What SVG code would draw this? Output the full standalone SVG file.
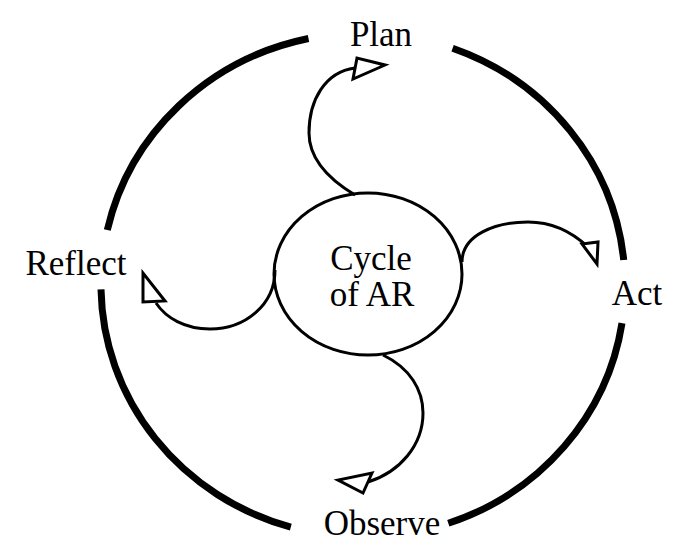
<svg xmlns="http://www.w3.org/2000/svg" width="695" height="552" viewBox="0 0 695 552">
<style>
.ring{fill:none;stroke:#000;stroke-width:7;stroke-linecap:butt}
.arc{fill:none;stroke:#000;stroke-width:3}
.head{fill:#fff;stroke:#000;stroke-width:3;stroke-linejoin:miter}
.lbl{font-family:'Liberation Serif';font-size:35px;fill:#000;text-anchor:middle}
</style>
<rect width="695" height="552" fill="#fff"/>
<g id="ring">
<path class="ring" d="M452.6,48.2 A262,252 0 0 1 623.7,260"/>
<path class="ring" d="M622,323.1 A262,252 0 0 1 448.3,523.3"/>
<path class="ring" d="M290.8,527.2 A262,252 0 0 1 101,289.4"/>
<path class="ring" d="M107.3,230 A262,252 0 0 1 308.5,38.5"/>
</g>
<g id="connectors">
<path class="arc" d="M355,195 C330,180 309,160 309,133 C309,100 325,72 355,68"/>
<polygon class="head" points="357,58 353,79 385,65"/>
<path class="arc" d="M462,262 C462,235 495,222 528,222 C552,222 572,232 588,247"/>
<polygon class="head" points="582,244 598,242 597,264"/>
<path class="arc" d="M275,270 C275,305 245,329 210,329 C185,329 166,318 156,303"/>
<polygon class="head" points="143,273 143,302 165,301"/>
<path class="arc" d="M383,355 C410,368 423,390 423,413 C423,445 400,472 368,482"/>
<polygon class="head" points="372,473 363,493 338,480"/>
</g>
<g id="center">
<ellipse cx="368" cy="274" rx="94" ry="81" fill="none" stroke="#000" stroke-width="3"/>
<text class="lbl" x="371" y="270">Cycle</text>
<text class="lbl" x="372" y="306">of AR</text>
</g>
<g id="plan"><text class="lbl" x="381" y="46">Plan</text></g>
<g id="act"><text class="lbl" x="637" y="305">Act</text></g>
<g id="observe"><text class="lbl" x="382" y="535">Observe</text></g>
<g id="reflect"><text class="lbl" x="76" y="275">Reflect</text></g>
</svg>
